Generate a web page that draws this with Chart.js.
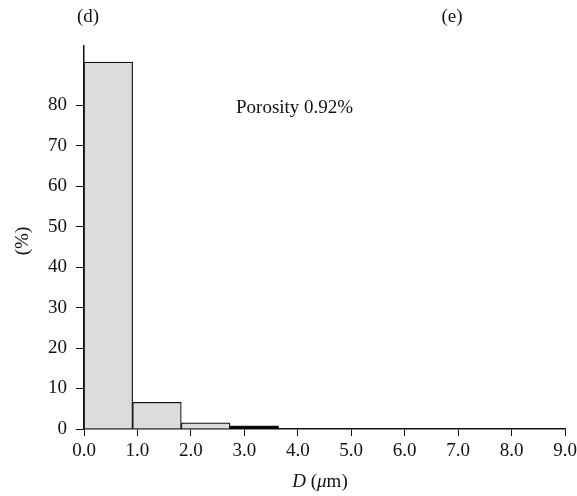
<!DOCTYPE html>
<html>
<head>
<meta charset="utf-8">
<script src="https://cdn.jsdelivr.net/npm/chart.js@4/dist/chart.umd.min.js"></script>
<style>
  html, body { margin: 0; padding: 0; background: #fff; }
  #wrap { width: 577px; height: 496px; }
</style>
</head>
<body>
<div id="wrap"><canvas id="grafico"></canvas></div>
<script>
// datos del histograma
const centrosBins = [0.455, 1.365, 2.275, 3.185];
const porcentajes = [90.6, 6.6, 1.5, 0.8];
const coloresBins = ['#dcdcdc', '#dcdcdc', '#dcdcdc', '#000000'];
const ticksX = [0, 1, 2, 3, 4, 5, 6, 7, 8, 9];
const ticksY = [0, 10, 20, 30, 40, 50, 60, 70, 80];
const etiquetaPorosidad = 'Porosity 0.92%';

const fuente = '"Liberation Serif", "DejaVu Serif", serif';
const tam = 19;

const textos = {
    id: 'textos',
    afterDraw(chart) {
        const { ctx, scales: { x, y } } = chart;
        ctx.save();
        ctx.fillStyle = '#111';
        ctx.textBaseline = 'middle';
        ctx.font = tam + 'px ' + fuente;
        ctx.textAlign = 'center';
        ctx.fillText('(d)', 88, 17);
        ctx.fillText('(e)', 452, 17);
        ctx.textAlign = 'left';
        ctx.fillText(etiquetaPorosidad, 236, y.getPixelForValue(79.4));

        // titulo eje y
        ctx.save();
        ctx.translate(23, 241);
        ctx.rotate(-Math.PI / 2);
        ctx.textAlign = 'center';
        ctx.fillText('(%)', 0, 0);
        ctx.restore();

        // titulo eje x: D (μm)
        const base = 487;
        ctx.textBaseline = 'alphabetic';
        ctx.textAlign = 'left';
        const partes = [['D', true], [' (', false], ['μ', true], ['m)', false]];
        const anchos = partes.map(([t, it]) => {
            ctx.font = (it ? 'italic ' : '') + tam + 'px ' + fuente;
            return ctx.measureText(t).width;
        });
        let cx = 320 - anchos.reduce((a, b) => a + b, 0) / 2;
        partes.forEach(([t, it], i) => {
            ctx.font = (it ? 'italic ' : '') + tam + 'px ' + fuente;
            ctx.fillText(t, cx, base);
            cx += anchos[i];
        });
        ctx.restore();
    }
};

new Chart(document.getElementById('grafico').getContext('2d'), {
    type: 'bar',
    data: {
        datasets: [{
            data: centrosBins.map((c, i) => ({ x: c, y: porcentajes[i] })),
            backgroundColor: coloresBins,
            borderColor: '#111',
            borderWidth: 1.2,
            barPercentage: 1,
            categoryPercentage: 1
        }]
    },
    options: {
        responsive: true,
        maintainAspectRatio: false,
        animation: false,
        layout: { padding: { top: 46, right: 12, left: 0, bottom: 0 } },
        plugins: {
            legend: { display: false },
            tooltip: { enabled: false }
        },
        scales: {
            x: {
                type: 'linear',
                min: 0,
                max: 9,
                offset: false,
                afterBuildTicks: (s) => { s.ticks = ticksX.map(v => ({ value: v })); },
                ticks: {
                    color: '#111',
                    font: { family: fuente, size: tam },
                    padding: 4,
                    maxRotation: 0,
                    callback: (v) => Number(v).toFixed(1)
                },
                grid: { drawOnChartArea: false, drawTicks: true, tickLength: 7, color: '#111', offset: false },
                border: { display: true, color: '#111', width: 1.5 },
                afterFit: (s) => { s.height = 67; s.paddingLeft = 0; s.paddingRight = 0; }
            },
            y: {
                min: 0,
                max: 94.6,
                afterBuildTicks: (s) => { s.ticks = ticksY.map(v => ({ value: v })); },
                ticks: {
                    color: '#111',
                    font: { family: fuente, size: tam },
                    padding: 9
                },
                grid: { drawOnChartArea: false, drawTicks: true, tickLength: 8, color: '#111' },
                border: { display: true, color: '#111', width: 1.5 },
                afterFit: (s) => { s.width = 84; s.paddingTop = 0; s.paddingBottom = 0; }
            }
        }
    },
    plugins: [textos]
});
</script>
</body>
</html>
